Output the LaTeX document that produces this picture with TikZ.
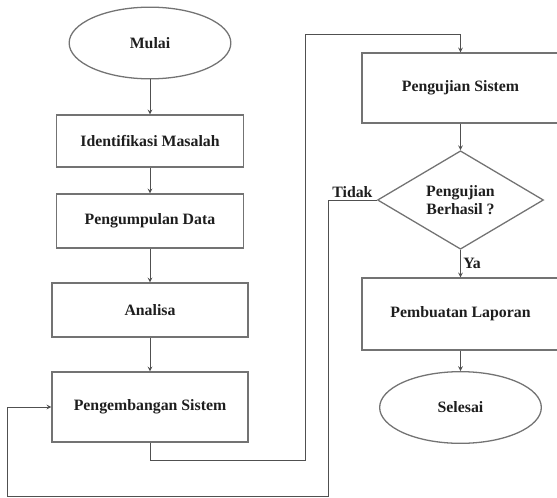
\documentclass[tikz,border=0pt]{standalone}
\usepackage{fontspec}
\setmainfont{Liberation Serif}
\usepackage{tikz}
\usetikzlibrary{shapes}
\usetikzlibrary{arrows}

\definecolor{warnagaris}{RGB}{80,80,80}
\definecolor{warnatepi}{RGB}{115,115,115}
\definecolor{warnateks}{RGB}{30,30,30}

\begin{document}
\begin{tikzpicture}[x=0.03cm,y=-0.03cm,font=\fontsize{13.5}{16}\selectfont\bfseries,text=warnateks]
\tikzstyle{panah}=[->,>=stealth,draw=warnagaris,line width=0.8pt]
\tikzset{kotak/.style={draw=warnatepi,line width=1.1pt,inner sep=0pt,minimum width=#1},
kotak/.default={5.61cm},
elips/.style={ellipse,draw=warnatepi,line width=1.1pt,inner sep=0pt,minimum width=4.85cm,minimum height=2.15cm},
keputusan/.style={diamond,draw=warnatepi,line width=1.1pt,inner sep=0pt,align=center,minimum width=4.98cm,minimum height=2.88cm}}
\useasboundingbox (0,0) rectangle (557,497);
% kolom kiri
\node [elips] (mulai) at (150,43) {Mulai};
\node [kotak,minimum height=1.56cm] (identifikasi) at (150,141) {Identifikasi Masalah};
\node [kotak,minimum height=1.62cm] (pengumpulan) at (150,221) {Pengumpulan Data};
\node [kotak=5.88cm,minimum height=1.62cm] (analisa) at (150,310) {Analisa};
\node [kotak=5.88cm,minimum height=2.1cm] (pengembangan) at (150,407) {Pengembangan Sistem};
% kolom kanan
\node [kotak=5.91cm,minimum height=2.1cm] (pengujian) at (460.5,88) {Pengujian Sistem};
\node [keputusan] (cek) at (460.5,200) {Pengujian\\Berhasil ?};
\node [kotak=5.91cm,minimum height=2.16cm] (laporan) at (460.5,314) {Pembuatan Laporan};
\node [elips] (selesai) at (460.5,407.5) {Selesai};
% titik belok
\coordinate (b1) at (305,460);
\coordinate (b2) at (305,34);
\coordinate (b3) at (328,496);
\coordinate (b4) at (7,496);
% panah
\draw [panah] (mulai) -- (identifikasi);
\draw [panah] (identifikasi) -- (pengumpulan);
\draw [panah] (pengumpulan) -- (analisa);
\draw [panah] (analisa) -- (pengembangan);
\draw [panah] (pengembangan.south) |- (b1) -- (b2) -| (pengujian.north);
\draw [panah] (pengujian) -- (cek);
\draw [panah] (cek.south) -- node [right,inner sep=2pt] {Ya} (laporan.north);
\draw [panah] (laporan) -- (selesai);
\draw [panah] (cek.west) -| node [pos=0.25,above,inner sep=1.5pt] {Tidak} (b3) -- (b4) |- (pengembangan.west);
\end{tikzpicture}
\end{document}
